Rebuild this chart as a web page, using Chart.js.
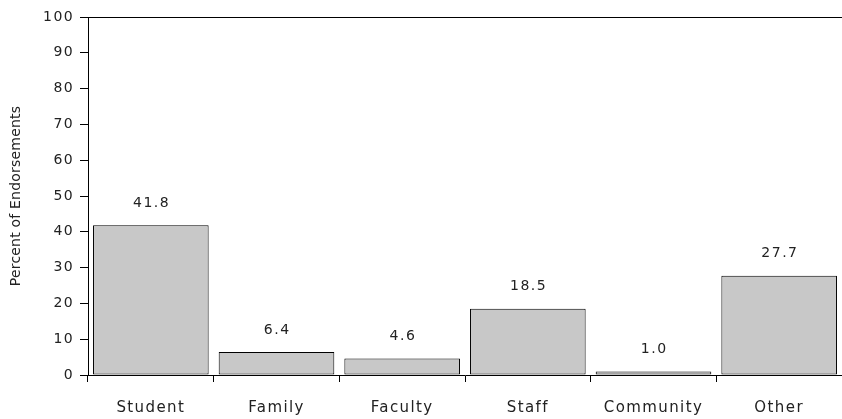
<!DOCTYPE html>
<html>
<head>
<meta charset="utf-8">
<script src="https://cdn.jsdelivr.net/npm/chart.js@4"></script>
<style>
    html, body { margin: 0; padding: 0; background: #fff; }
    #wrap { width: 842px; height: 419px; position: relative; }
</style>
</head>
<body>
<div id="wrap"><canvas id="endorseChart"></canvas></div>
<script>
// Chart data
const categories = ['Student', 'Family', 'Faculty', 'Staff', 'Community', 'Other'];
const percentValues = [41.8, 6.4, 4.6, 18.5, 1.0, 27.7];
const yTicks = [0, 10, 20, 30, 40, 50, 60, 70, 80, 90, 100];
const yTitle = 'Percent of Endorsements';

const FONT = 'DejaVu Sans, Verdana, sans-serif';
const TEXT_COLOR = '#222';

// Wide spacing of the original font
const spacing = {
    id: 'spacing',
    beforeDraw(chart) {
        chart.ctx.letterSpacing = '1.4px';
    },
    afterDraw(chart) {
        chart.ctx.letterSpacing = '0px';
    }
};

// Value labels above bars, top frame line and y title
const extras = {
    id: 'extras',
    afterDatasetsDraw(chart) {
        const ctx = chart.ctx;
        const meta = chart.getDatasetMeta(0);
        const area = chart.chartArea;
        ctx.save();
        ctx.font = '14px ' + FONT;
        ctx.letterSpacing = '1.5px';
        ctx.fillStyle = TEXT_COLOR;
        ctx.textAlign = 'center';
        ctx.textBaseline = 'middle';
        meta.data.forEach((bar, i) => {
            ctx.fillText(percentValues[i].toFixed(1), bar.x + 0.75, bar.y - 22);
        });

        // top line
        ctx.strokeStyle = '#000';
        ctx.lineWidth = 1;
        ctx.beginPath();
        ctx.moveTo(area.left, area.top + 0.5);
        ctx.lineTo(chart.width, area.top + 0.5);
        ctx.stroke();

        // y axis title
        ctx.letterSpacing = '0.2px';
        ctx.translate(16, (area.top + area.bottom) / 2);
        ctx.rotate(-Math.PI / 2);
        ctx.fillText(yTitle, 0, 0);
        ctx.restore();
    }
};

new Chart(document.getElementById('endorseChart').getContext('2d'), {
    type: 'bar',
    data: {
        labels: categories,
        datasets: [{
            data: percentValues,
            backgroundColor: '#c8c8c8',
            borderColor: '#000',
            borderWidth: 1,
            borderSkipped: false,
            barPercentage: 0.92,
            categoryPercentage: 1.0
        }]
    },
    options: {
        responsive: true,
        maintainAspectRatio: false,
        animation: false,
        layout: { padding: { top: 17, right: 0, left: 0, bottom: 0 } },
        plugins: {
            legend: { display: false },
            tooltip: { enabled: false }
        },
        scales: {
            x: {
                grid: {
                    offset: true,
                    drawOnChartArea: false,
                    tickLength: 7,
                    color: '#000'
                },
                border: { color: '#000', width: 1 },
                ticks: {
                    color: TEXT_COLOR,
                    padding: 17,
                    font: { family: FONT, size: 15 }
                },
                afterFit(axis) { axis.height = 44; }
            },
            y: {
                min: 0,
                max: 100,
                afterBuildTicks(axis) {
                    axis.ticks = yTicks.map(v => ({ value: v }));
                },
                grid: {
                    drawOnChartArea: false,
                    tickLength: 8,
                    color: '#000'
                },
                border: { color: '#000', width: 1 },
                ticks: {
                    color: TEXT_COLOR,
                    padding: 6,
                    font: { family: FONT, size: 14 }
                },
                afterFit(axis) { axis.width = 88; }
            }
        }
    },
    plugins: [spacing, extras]
});
</script>
</body>
</html>
